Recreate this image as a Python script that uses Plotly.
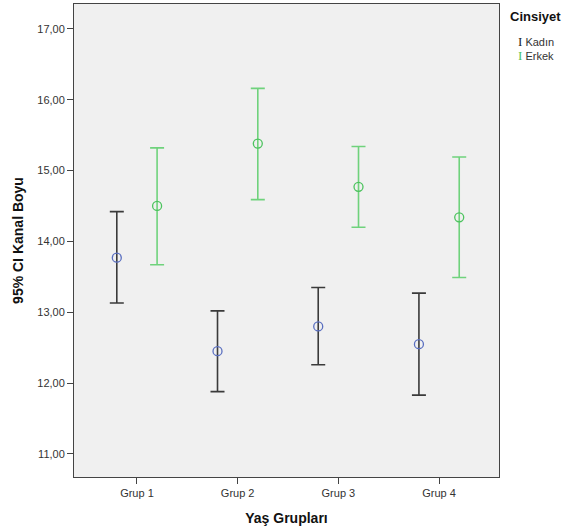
import plotly.graph_objects as go

groups = ["Grup 1", "Grup 2", "Grup 3", "Grup 4"]
kadin_mean = [13.77, 12.45, 12.80, 12.55]
kadin_upper = [14.42, 13.02, 13.35, 13.27]
kadin_lower = [13.13, 11.88, 12.26, 11.83]
erkek_mean = [14.50, 15.38, 14.77, 14.34]
erkek_upper = [15.32, 16.16, 15.34, 15.19]
erkek_lower = [13.67, 14.59, 14.20, 13.49]
y_ticks = [11, 12, 13, 14, 15, 16, 17]
y_tick_labels = ["11,00", "12,00", "13,00", "14,00", "15,00", "16,00", "17,00"]

offset = 0.2
xk = [i - offset for i in range(len(groups))]
xe = [i + offset for i in range(len(groups))]

fig = go.Figure()
fig.add_trace(go.Scatter(
    x=xk, y=kadin_mean, mode="markers", name="Kadın",
    marker=dict(symbol="circle-open", size=9, color="#5a6fc0", line=dict(width=1.3)),
    error_y=dict(type="data", symmetric=False,
                 array=[u - m for u, m in zip(kadin_upper, kadin_mean)],
                 arrayminus=[m - l for m, l in zip(kadin_mean, kadin_lower)],
                 color="#3a3a3a", thickness=1.6, width=7),
    showlegend=False,
))
fig.add_trace(go.Scatter(
    x=xe, y=erkek_mean, mode="markers", name="Erkek",
    marker=dict(symbol="circle-open", size=9, color="#4cc35e", line=dict(width=1.3)),
    error_y=dict(type="data", symmetric=False,
                 array=[u - m for u, m in zip(erkek_upper, erkek_mean)],
                 arrayminus=[m - l for m, l in zip(erkek_mean, erkek_lower)],
                 color="#6fd27c", thickness=1.6, width=7),
    showlegend=False,
))

fig.update_layout(
    width=565, height=530,
    margin=dict(l=74, r=66, t=4, b=53),
    paper_bgcolor="white", plot_bgcolor="#f0f0f0",
    font=dict(family="Liberation Sans, Arial, sans-serif", size=11, color="#333333"),
    xaxis=dict(
        range=[-0.625, 3.595], tickmode="array", tickvals=list(range(len(groups))),
        ticktext=groups, ticks="outside", ticklen=6, tickcolor="#444", tickwidth=1,
        showgrid=False, zeroline=False, showline=True, mirror=True,
        linecolor="#444", linewidth=1,
        title=dict(text="<b>Yaş Grupları</b>", font=dict(size=14, color="#111"), standoff=14),
    ),
    yaxis=dict(
        range=[10.675, 17.35], tickmode="array", tickvals=y_ticks, ticktext=y_tick_labels,
        ticks="outside", ticklen=6, tickcolor="#444", tickwidth=1,
        showgrid=False, zeroline=False, showline=True, mirror=True,
        linecolor="#444", linewidth=1,
        title=dict(text="<b>95% CI Kanal Boyu</b>", font=dict(size=14, color="#111"), standoff=10),
    ),
)

fig.add_annotation(xref="paper", yref="paper", x=1.02, y=0.993, xanchor="left", yanchor="top",
                   text="<b>Cinsiyet</b>", showarrow=False, font=dict(size=13, color="#111"))
fig.add_annotation(xref="paper", yref="paper", x=1.04, y=0.94, xanchor="left", yanchor="top",
                   text="<span style='color:#222;font-family:Liberation Serif, DejaVu Serif, serif;font-size:13px'>I</span>&nbsp;Kadın",
                   showarrow=False, font=dict(size=11, color="#333"))
fig.add_annotation(xref="paper", yref="paper", x=1.04, y=0.912, xanchor="left", yanchor="top",
                   text="<span style='color:#4cc35e;font-family:Liberation Serif, DejaVu Serif, serif;font-size:13px'>I</span>&nbsp;Erkek",
                   showarrow=False, font=dict(size=11, color="#333"))

fig.write_html("out.html")
